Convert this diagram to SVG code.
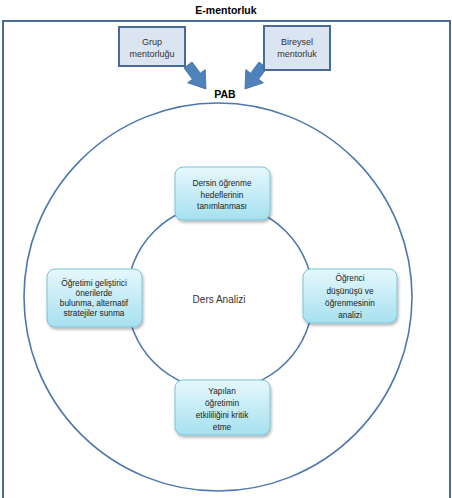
<svg xmlns="http://www.w3.org/2000/svg" width="452" height="498" viewBox="0 0 452 498">
<style>
text{font-family:"Liberation Sans",Arial,sans-serif;fill:#000;text-anchor:middle}
.t{font-size:10.5px;font-weight:bold}
.b{font-size:9px;fill:#333}
.n{font-size:8.3px;fill:#222}
.box{fill:#dbe5f1;stroke:#4a6b96;stroke-width:2}
.node{fill:url(#g);stroke:#7cc4d8;stroke-width:1;filter:url(#sh)}
.ring{fill:none;stroke:#4f77ad;stroke-width:1.6}
.arr{fill:#4f81bd;stroke:#3a6aa0;stroke-width:0.8}
</style>
<defs>
<linearGradient id="g" x1="0" y1="0" x2="0" y2="1">
<stop offset="0" stop-color="#e6f8fc"/>
<stop offset="1" stop-color="#a6e0ef"/>
</linearGradient>
<filter id="sh" x="-20%" y="-20%" width="140%" height="150%">
<feDropShadow dx="1" dy="2" stdDeviation="1.5" flood-color="#000" flood-opacity="0.3"/>
</filter>
</defs>
<text class="t" x="226" y="14">E-mentorluk</text>
<rect x="3" y="21" width="447" height="490" fill="none" stroke="#4a6b96" stroke-width="2"/>
<g id="connectors">
<path class="arr" d="M192 62 L200.4 73.2 L205.2 69.6 L206 89 L187.6 82.8 L192.4 79.2 L184 68 Z"/>
<path class="arr" d="M259 62 L250.6 73.2 L245.8 69.6 L245 89 L263.4 82.8 L258.6 79.2 L267 68 Z"/>
</g>
<g id="grup"><rect class="box" x="119" y="27" width="66" height="39"/><text class="b" x="152" y="45">Grup</text><text class="b" x="152" y="57">mentorluğu</text></g>
<g id="bireysel"><rect class="box" x="264" y="26" width="66" height="44"/><text class="b" x="297" y="45">Bireysel</text><text class="b" x="297" y="57">mentorluk</text></g>
<g id="pab"><text class="t" x="225" y="98">PAB</text><circle class="ring" cx="218" cy="297" r="194"/></g>
<g id="ders"><circle class="ring" cx="220" cy="297" r="93"/><text x="219" y="303" style="font-size:10px;fill:#333">Ders Analizi</text></g>
<g id="n1"><rect class="node" x="175" y="167" width="95" height="53" rx="8"/><text class="n" x="222" y="186">Dersin öğrenme</text><text class="n" x="222" y="197.5">hedeflerinin</text><text class="n" x="222" y="209">tanımlanması</text></g>
<g id="n2"><rect class="node" x="303" y="269" width="94" height="54" rx="8"/><text class="n" x="350" y="281">Öğrenci</text><text class="n" x="350" y="294">düşünüşü ve</text><text class="n" x="350" y="306">öğrenmesinin</text><text class="n" x="350" y="318">analizi</text></g>
<g id="n3"><rect class="node" x="175" y="380" width="95" height="55" rx="8"/><text class="n" x="222" y="394">Yapılan</text><text class="n" x="222" y="406">öğretimin</text><text class="n" x="222" y="418">etkililiğini kritik</text><text class="n" x="222" y="430">etme</text></g>
<g id="n4"><rect class="node" x="47" y="269" width="95" height="58" rx="8"/><text class="n" x="94" y="286">Öğretimi geliştirici</text><text class="n" x="94" y="296">önerilerde</text><text class="n" x="94" y="306">bulunma, alternatif</text><text class="n" x="94" y="316">stratejiler sunma</text></g>
</svg>
